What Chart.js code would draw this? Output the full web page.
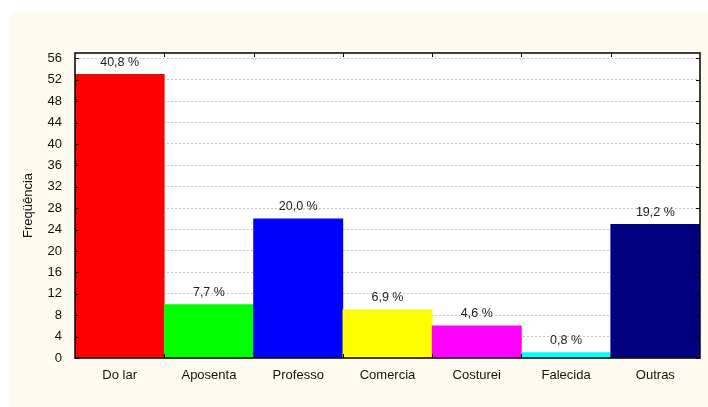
<!DOCTYPE html>
<html>
<head>
<meta charset="utf-8">
<script src="https://cdn.jsdelivr.net/npm/chart.js@4"></script>
<style>
  html, body { margin: 0; padding: 0; background: #fff; }
  #wrap { width: 708px; height: 407px; position: relative; }
</style>
</head>
<body>
<div id="wrap"><canvas id="freqChart" width="708" height="407"></canvas></div>
<script>
const categories = ['Do lar', 'Aposenta', 'Professo', 'Comercia', 'Costurei', 'Falecida', 'Outras'];
const counts = [53, 10, 26, 9, 6, 1, 25];
const barColors = ['#ff0000', '#00ff00', '#0000ff', '#ffff00', '#ff00ff', '#00ffff', '#000080'];
const yTicks = [0, 4, 8, 12, 16, 20, 24, 28, 32, 36, 40, 44, 48, 52, 56];

const total = counts.reduce((a, b) => a + b, 0);
const pctLabels = counts.map(v => (v / total * 100).toFixed(1).replace('.', ',') + ' %');

const FONT = '"Liberation Sans", Arial, sans-serif';

// cream page background + white plot area
const background = {
    id: 'background',
    beforeDraw(chart) {
        const { ctx, chartArea: a } = chart;
        ctx.save();
        ctx.fillStyle = '#fffaf0';
        ctx.fillRect(10, 12, chart.width - 10, chart.height - 12);
        ctx.fillStyle = '#ffffff';
        ctx.fillRect(a.left, a.top, a.right - a.left, a.bottom - a.top);
        ctx.restore();
    }
};

// frame with inward tick marks, and percent labels above bars
const frameAndLabels = {
    id: 'frameAndLabels',
    afterDatasetsDraw(chart) {
        const { ctx, chartArea: a, scales } = chart;
        ctx.save();
        ctx.strokeStyle = '#000';
        ctx.lineWidth = 1.5;
        ctx.strokeRect(a.left, a.top, a.right - a.left, a.bottom - a.top);

        ctx.lineWidth = 1;
        ctx.beginPath();
        yTicks.forEach(v => {
            const y = Math.round(scales.y.getPixelForValue(v)) + 0.5;
            ctx.moveTo(a.left, y); ctx.lineTo(a.left + 4, y);
            ctx.moveTo(a.right, y); ctx.lineTo(a.right - 4, y);
        });
        const step = (a.right - a.left) / categories.length;
        for (let i = 1; i < categories.length; i++) {
            const x = Math.round(a.left + i * step) + 0.5;
            ctx.moveTo(x, a.top); ctx.lineTo(x, a.top + 4);
            ctx.moveTo(x, a.bottom); ctx.lineTo(x, a.bottom - 4);
        }
        ctx.stroke();

        ctx.fillStyle = '#222';
        ctx.font = '12.5px ' + FONT;
        ctx.textAlign = 'center';
        ctx.textBaseline = 'middle';
        chart.getDatasetMeta(0).data.forEach((bar, i) => {
            ctx.fillText(pctLabels[i], bar.x, bar.y - 12);
        });
        ctx.restore();
    }
};

new Chart(document.getElementById('freqChart').getContext('2d'), {
    type: 'bar',
    data: {
        labels: categories,
        datasets: [{
            data: counts,
            backgroundColor: barColors,
            borderWidth: 0,
            barPercentage: 1,
            categoryPercentage: 1
        }]
    },
    options: {
        responsive: false,
        animation: false,
        layout: { padding: { top: 53, right: 8, left: 0, bottom: 0 } },
        plugins: {
            legend: { display: false },
            tooltip: { enabled: false }
        },
        scales: {
            x: {
                grid: { display: false },
                border: { display: false },
                ticks: { color: '#111', font: { family: FONT, size: 13 }, padding: 2 },
                afterFit: scale => { scale.height = 49; }
            },
            y: {
                min: 0,
                max: 57,
                grid: { color: '#c4c4c4', lineWidth: 1, drawTicks: false },
                border: { display: false, dash: [2, 2] },
                ticks: {
                    stepSize: 4,
                    includeBounds: false,
                    color: '#111',
                    padding: 13,
                    font: { family: FONT, size: 13 }
                },
                title: {
                    display: true,
                    text: 'Freqüência',
                    color: '#111',
                    font: { family: FONT, size: 13 },
                    padding: { top: 21, bottom: 0 }
                },
                afterFit: scale => { scale.width = 75; }
            }
        }
    },
    plugins: [background, frameAndLabels]
});
</script>
</body>
</html>
